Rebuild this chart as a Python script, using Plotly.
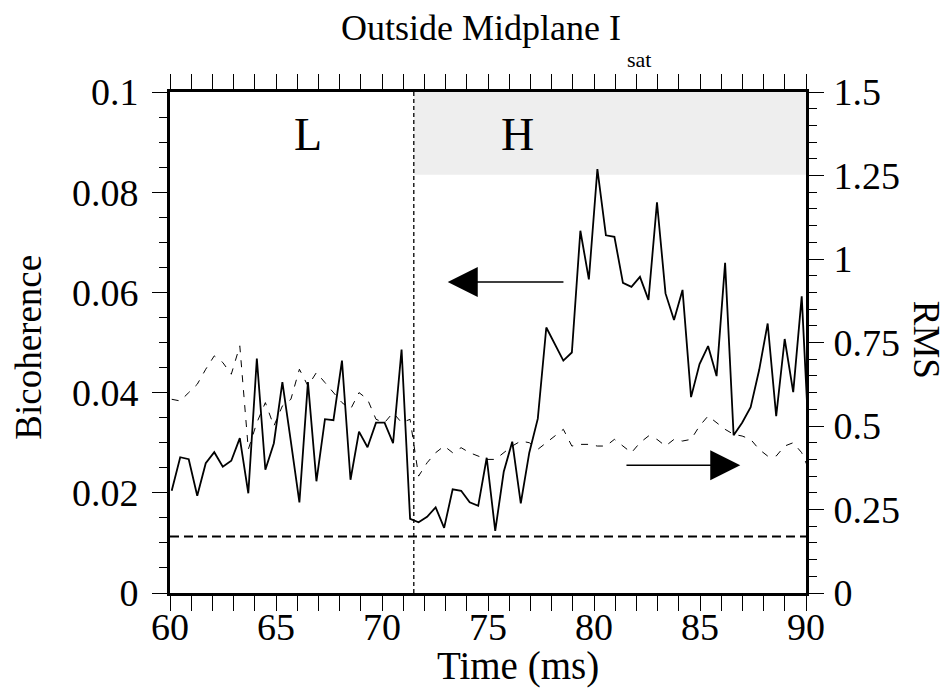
import plotly.graph_objects as go

# ---------------- data ----------------
n_pts = 76
t0 = 60.08
dt = 0.4016
time_ms = [round(t0 + dt * i, 3) for i in range(n_pts)]

bicoherence = [
    0.0204, 0.0271, 0.0267, 0.0194, 0.0259, 0.0281, 0.0252, 0.0264, 0.0309, 0.0199,
    0.0468, 0.0246, 0.0299, 0.0421, 0.0302, 0.0181, 0.0421, 0.0223, 0.0347, 0.0345,
    0.0464, 0.0226, 0.0322, 0.0291, 0.0340, 0.0340, 0.0299, 0.0486, 0.0148, 0.0141,
    0.0152, 0.0171, 0.0130, 0.0207, 0.0204, 0.0181, 0.0174, 0.0270, 0.0124, 0.0242,
    0.0302, 0.0179, 0.0280, 0.0348, 0.0530, 0.0497, 0.0464, 0.0480, 0.0723, 0.0626,
    0.0846, 0.0714, 0.0711, 0.0619, 0.0611, 0.0631, 0.0585, 0.0780, 0.0598, 0.0545,
    0.0605, 0.0391, 0.0457, 0.0493, 0.0433, 0.0659, 0.0315, 0.0340, 0.0371, 0.0445,
    0.0538, 0.0353, 0.0507, 0.0401, 0.0592, 0.0250,
]

rms = [
    0.58, 0.575, 0.60, 0.625, 0.67, 0.71, 0.69, 0.655, 0.74, 0.43,
    0.51, 0.57, 0.50, 0.56, 0.58, 0.67, 0.62, 0.66, 0.63, 0.60,
    0.57, 0.55, 0.60, 0.58, 0.52, 0.51, 0.54, 0.51, 0.52, 0.35,
    0.39, 0.42, 0.44, 0.42, 0.435, 0.42, 0.41, 0.40, 0.40, 0.42,
    0.44, 0.455, 0.45, 0.43, 0.45, 0.47, 0.49, 0.44, 0.445, 0.445,
    0.44, 0.44, 0.46, 0.44, 0.42, 0.45, 0.47, 0.46, 0.44, 0.46,
    0.455, 0.46, 0.50, 0.53, 0.51, 0.49, 0.475, 0.47, 0.46, 0.43,
    0.41, 0.41, 0.44, 0.45, 0.42, 0.36,
]

threshold_x = [60, 90]
threshold_y = [0.0113, 0.0113]

lh_transition = 71.5
shade_bottom = 0.0835

x_tickvals = [60, 65, 70, 75, 80, 85, 90]
x_ticktext = ["60", "65", "70", "75", "80", "85", "90"]
y_tickvals = [0, 0.02, 0.04, 0.06, 0.08, 0.1]
y_ticktext = ["0", "0.02", "0.04", "0.06", "0.08", "0.1"]
y2_tickvals = [0, 0.25, 0.5, 0.75, 1.0, 1.25, 1.5]
y2_ticktext = ["0", "0.25", "0.5", "0.75", "1", "1.25", "1.5"]

# ---------------- figure ----------------
FONT = "Liberation Serif, Times New Roman, serif"
fig = go.Figure()

fig.add_trace(go.Scatter(
    x=time_ms, y=rms, yaxis="y2", mode="lines",
    line=dict(color="black", width=1, dash="7px,8px"),
    showlegend=False, hoverinfo="skip"))

fig.add_trace(go.Scatter(
    x=threshold_x, y=threshold_y, mode="lines",
    line=dict(color="black", width=2, dash="9px,5px"),
    showlegend=False, hoverinfo="skip"))

fig.add_trace(go.Scatter(
    x=time_ms, y=bicoherence, mode="lines",
    line=dict(color="black", width=1.8),
    showlegend=False, hoverinfo="skip"))

fig.add_shape(type="rect", xref="x", yref="y",
              x0=lh_transition, x1=90, y0=shade_bottom, y1=0.1,
              fillcolor="#eeeeee", line=dict(width=0), layer="below")
fig.add_shape(type="line", xref="x", yref="y",
              x0=lh_transition, x1=lh_transition, y0=0, y1=0.1,
              line=dict(color="black", width=1.3, dash="4px,3px"), layer="above")

tickfont = dict(family=FONT, size=38, color="black")


def axis_common():
    return dict(showgrid=False, zeroline=False, automargin=False,
                showline=True, linecolor="black", linewidth=3,
                ticks="outside", ticklen=15, tickwidth=1, tickcolor="black",
                tickfont=tickfont)


fig.update_layout(
    template="none",
    width=942, height=680,
    margin=dict(l=162, r=144, t=84, b=95, autoexpand=False),
    paper_bgcolor="white", plot_bgcolor="white",
    font=dict(family=FONT, color="black"),
    xaxis=dict(
        range=[60, 90], mirror="allticks",
        tickvals=x_tickvals, ticktext=x_ticktext, ticklabelstandoff=-17,
        minor=dict(dtick=1, ticks="outside", ticklen=8, tickwidth=1, tickcolor="black", showgrid=False),
        **axis_common(),
    ),
    yaxis=dict(
        range=[0, 0.1],
        tickvals=y_tickvals, ticktext=y_ticktext, ticklabelstandoff=6,
        minor=dict(dtick=0.005, ticks="outside", ticklen=8, tickwidth=1, tickcolor="black", showgrid=False),
        **axis_common(),
    ),
    yaxis2=dict(
        range=[0, 1.5], overlaying="y", side="right",
        tickvals=y2_tickvals, ticktext=y2_ticktext, ticklabelstandoff=2,
        minor=dict(dtick=0.05, ticks="outside", ticklen=8, tickwidth=1, tickcolor="black", showgrid=False),
        **axis_common(),
    ),
    annotations=[
        dict(text="Outside Midplane I", xref="paper", yref="paper", x=0.712, y=1.128,
             xanchor="right", yanchor="middle", showarrow=False,
             font=dict(family=FONT, size=36)),
        dict(text="sat", xref="paper", yref="paper", x=0.716, y=1.064,
             xanchor="left", yanchor="middle", showarrow=False,
             font=dict(family=FONT, size=22)),
        dict(text="Time (ms)", xref="paper", yref="paper", x=0.547, y=-0.146,
             xanchor="center", yanchor="middle", showarrow=False,
             font=dict(family=FONT, size=39)),
        dict(text="Bicoherence", xref="paper", yref="paper", x=-0.223, y=0.49,
             xanchor="center", yanchor="middle", textangle=-90, showarrow=False,
             font=dict(family=FONT, size=37)),
        dict(text="RMS", xref="paper", yref="paper", x=1.189, y=0.505,
             xanchor="center", yanchor="middle", textangle=90, showarrow=False,
             font=dict(family=FONT, size=37)),
        dict(text="L", xref="x", yref="y", x=66.5, y=0.0915, showarrow=False,
             font=dict(family=FONT, size=46)),
        dict(text="H", xref="x", yref="y", x=76.4, y=0.0915, showarrow=False,
             font=dict(family=FONT, size=46)),
        dict(text="", xref="x", yref="y", axref="x", ayref="y",
             x=73.1, y=0.0621, ax=78.63, ay=0.0621,
             showarrow=True, arrowhead=2, arrowsize=4, arrowwidth=1.5, arrowcolor="black"),
        dict(text="", xref="x", yref="y", axref="x", ayref="y",
             x=86.9, y=0.0255, ax=81.46, ay=0.0255,
             showarrow=True, arrowhead=2, arrowsize=4, arrowwidth=1.5, arrowcolor="black"),
    ],
)

fig.write_html("out.html")
